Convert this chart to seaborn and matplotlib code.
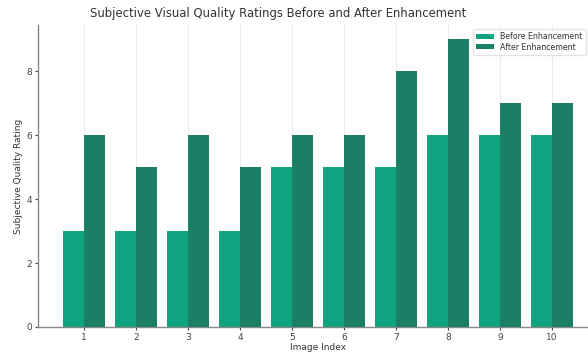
import pandas as pd
import numpy as np
import matplotlib.pyplot as plt
import seaborn as sns

image_index = [1, 2, 3, 4, 5, 6, 7, 8, 9, 10]
before_enh = [3, 3, 3, 3, 5, 5, 5, 6, 6, 6]
after_enh = [6, 5, 6, 5, 6, 6, 8, 9, 7, 7]
series_names = ['Before Enhancement', 'After Enhancement']
colors = ['#10a37f', '#1a7f64']

df = pd.DataFrame({
    'Image Index': image_index * 2,
    'Rating': before_enh + after_enh,
    'Series': [series_names[0]] * len(image_index) + [series_names[1]] * len(image_index),
})

sns.set_theme(style='whitegrid', rc={'grid.color': '#ebebeb', 'axes.edgecolor': '#888888',
                                     'axes.linewidth': 1.0})
plt.rcParams['font.family'] = ['DejaVu Sans']

fig = plt.figure(figsize=(5.88, 3.52), dpi=100)
ax = fig.add_axes([38 / 588, 25 / 352, 560 / 588, 302 / 352])

sns.barplot(data=df, x='Image Index', y='Rating', hue='Series', palette=colors,
            width=0.8, saturation=1, linewidth=0, ax=ax)

ax.set_xlim(-0.89, 9.89)
ax.set_ylim(0, 9.45)
ax.set_yticks([0, 2, 4, 6, 8])
ax.grid(axis='y', visible=False)
ax.grid(axis='x', visible=True, linewidth=0.8)
for side in ['top', 'right']:
    ax.spines[side].set_visible(False)
ax.tick_params(axis='both', labelsize=6.5, colors='#444444', length=2, width=0.8, pad=2)
ax.tick_params(axis='x', bottom=True)
ax.tick_params(axis='y', left=True)

ax.set_title('Subjective Visual Quality Ratings Before and After Enhancement',
             fontsize=8.4, color='#333333', pad=6, x=0.429)
ax.set_xlabel('Image Index', fontsize=6.5, color='#333333', labelpad=1)
ax.set_ylabel('Subjective Quality Rating', fontsize=6.5, color='#333333', labelpad=3)

leg = ax.legend(loc='upper right', bbox_to_anchor=(0.985, 1.0), fontsize=5.7, frameon=True,
                handlelength=2.2, handleheight=0.6, borderpad=0.4, labelspacing=0.2)
leg.get_frame().set_edgecolor('#dddddd')
for t in leg.get_texts():
    t.set_color('#333333')

fig.savefig('out.png', dpi=100)
